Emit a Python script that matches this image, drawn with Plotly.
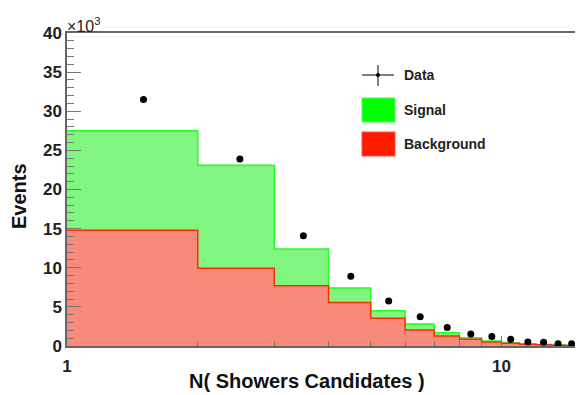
import plotly.graph_objects as go
import math

# ---- data (counts in units of 10^3 events) ----
bin_edges = [1, 2, 3, 4, 5, 6, 7, 8, 9, 10, 11, 12, 13, 14, 15]
data_counts = [31.5, 23.9, 14.1, 8.9, 5.75, 3.75, 2.35, 1.53, 1.2, 0.85, 0.51, 0.47, 0.3, 0.3]
background = [14.8, 9.95, 7.7, 5.55, 3.55, 2.05, 1.28, 0.85, 0.51, 0.35, 0.22, 0.16, 0.10, 0.06]
signal = [12.7, 13.15, 4.7, 1.85, 0.95, 0.75, 0.42, 0.21, 0.13, 0.07, 0.05, 0.04, 0.03, 0.02]
y_ticks = [0, 5, 10, 15, 20, 25, 30, 35, 40]
x_ticks = [1, 10]
x_minor = [2, 3, 4, 5, 6, 7, 8, 9]

# the page body has an 8px default margin; figure is sized to fit the 583x395 window
OFF = 8
W, H = 583 - OFF, 395 - OFF
# target plot frame in window pixels
FX0, FX1, FY0, FY1 = 67, 578, 33, 346
L, R, T, B = FX0 - OFF, W - (FX1 - OFF), FY0 - OFF, H - (FY1 - OFF)


def px(x):
    return (x - FX0) / (FX1 - FX0)


def py(y):
    return (FY1 - y) / (FY1 - FY0)


total = [s + b for s, b in zip(signal, background)]
step_x = list(bin_edges)
step_total = total + [total[-1]]
step_bg = background + [background[-1]]
centers = [(bin_edges[i] + bin_edges[i + 1]) / 2 for i in range(len(data_counts))]
errs = [math.sqrt(v * 1000) / 1000 for v in data_counts]

fig = go.Figure()
fig.add_trace(go.Scatter(
    x=step_x, y=step_total, mode="lines", line=dict(shape="hv", color="#22ff22", width=1.5),
    fill="tozeroy", fillcolor="rgb(128,246,128)", name="Signal", hoverinfo="skip"))
fig.add_trace(go.Scatter(
    x=step_x, y=step_bg, mode="lines", line=dict(shape="hv", color="#ff2a00", width=1.5),
    fill="tozeroy", fillcolor="rgb(248,138,124)", name="Background", hoverinfo="skip"))
fig.add_trace(go.Scatter(
    x=centers, y=data_counts, mode="markers",
    marker=dict(color="black", size=7),
    error_y=dict(type="data", array=errs, color="black", thickness=1, width=0),
    name="Data"))

font_family = "Liberation Sans, Arial, sans-serif"

fig.update_layout(
    width=W, height=H,
    margin=dict(l=L, r=R, t=T, b=B, pad=0, autoexpand=False),
    paper_bgcolor="white", plot_bgcolor="white",
    showlegend=False,
    font=dict(family=font_family, color="#222"),
    xaxis=dict(
        type="log", range=[0, math.log10(15)],
        tickmode="array", tickvals=x_ticks, ticktext=[str(v) for v in x_ticks],
        ticks="inside", ticklen=10, tickcolor="#777", tickwidth=1,
        minor=dict(tickmode="array", tickvals=x_minor, ticks="inside", ticklen=5, tickcolor="#777"),
        showline=True, linecolor="#666", linewidth=1.5, mirror=True,
        showgrid=False, zeroline=False, automargin=False, ticklabelstandoff=4,
        tickfont=dict(size=17, family=font_family, weight="bold", color="#222"),
    ),
    yaxis=dict(
        range=[0, 40],
        tickmode="array", tickvals=y_ticks, ticktext=[str(v) for v in y_ticks],
        ticks="inside", ticklen=14, tickcolor="#777", tickwidth=1,
        minor=dict(dtick=1, ticks="inside", ticklen=7, tickcolor="#777"),
        showline=True, linecolor="#666", linewidth=1.5, mirror=True,
        showgrid=False, zeroline=False, automargin=False,
        tickfont=dict(size=17, family=font_family, weight="bold", color="#222"),
    ),
)

# axis titles and multiplier
fig.add_annotation(x=px(307), y=py(381), xref="paper", yref="paper", showarrow=False,
                   xanchor="center", yanchor="middle",
                   text="N( Showers Candidates )",
                   font=dict(size=20, family=font_family, weight="bold", color="#111"))
fig.add_annotation(x=px(19), y=py(196), xref="paper", yref="paper", showarrow=False,
                   xanchor="center", yanchor="middle",
                   text="Events", textangle=-90,
                   font=dict(size=20, family=font_family, weight="bold", color="#111"))
fig.add_annotation(x=0, y=1, xref="paper", yref="paper", showarrow=False,
                   xanchor="left", yanchor="bottom", yshift=-4, xshift=-2,
                   text="\u00d710<sup>3</sup>",
                   font=dict(size=16, family=font_family, color="#222"))

# custom legend
fig.add_shape(type="line", xref="paper", yref="paper", x0=px(362), x1=px(394), y0=py(75), y1=py(75),
              line=dict(color="black", width=1))
fig.add_shape(type="line", xref="paper", yref="paper", x0=px(378), x1=px(378), y0=py(65), y1=py(86),
              line=dict(color="black", width=1))
fig.add_shape(type="circle", xref="paper", yref="paper", x0=px(376), x1=px(380), y0=py(73), y1=py(77),
              fillcolor="black", line=dict(color="black", width=0))
fig.add_shape(type="rect", xref="paper", yref="paper", x0=px(362), x1=px(395), y0=py(122), y1=py(98),
              fillcolor="#00ff00", line=dict(color="#55ff55", width=1))
fig.add_shape(type="rect", xref="paper", yref="paper", x0=px(362), x1=px(395), y0=py(156), y1=py(132),
              fillcolor="#ff1a00", line=dict(color="#ff5544", width=1))
for label, ypix in [("Data", 75), ("Signal", 110), ("Background", 144)]:
    fig.add_annotation(x=px(402), y=py(ypix), xref="paper", yref="paper", showarrow=False,
                       xanchor="left", yanchor="middle", text=label,
                       font=dict(size=14, family=font_family, weight="bold", color="#222"))

fig.write_html("out.html")
